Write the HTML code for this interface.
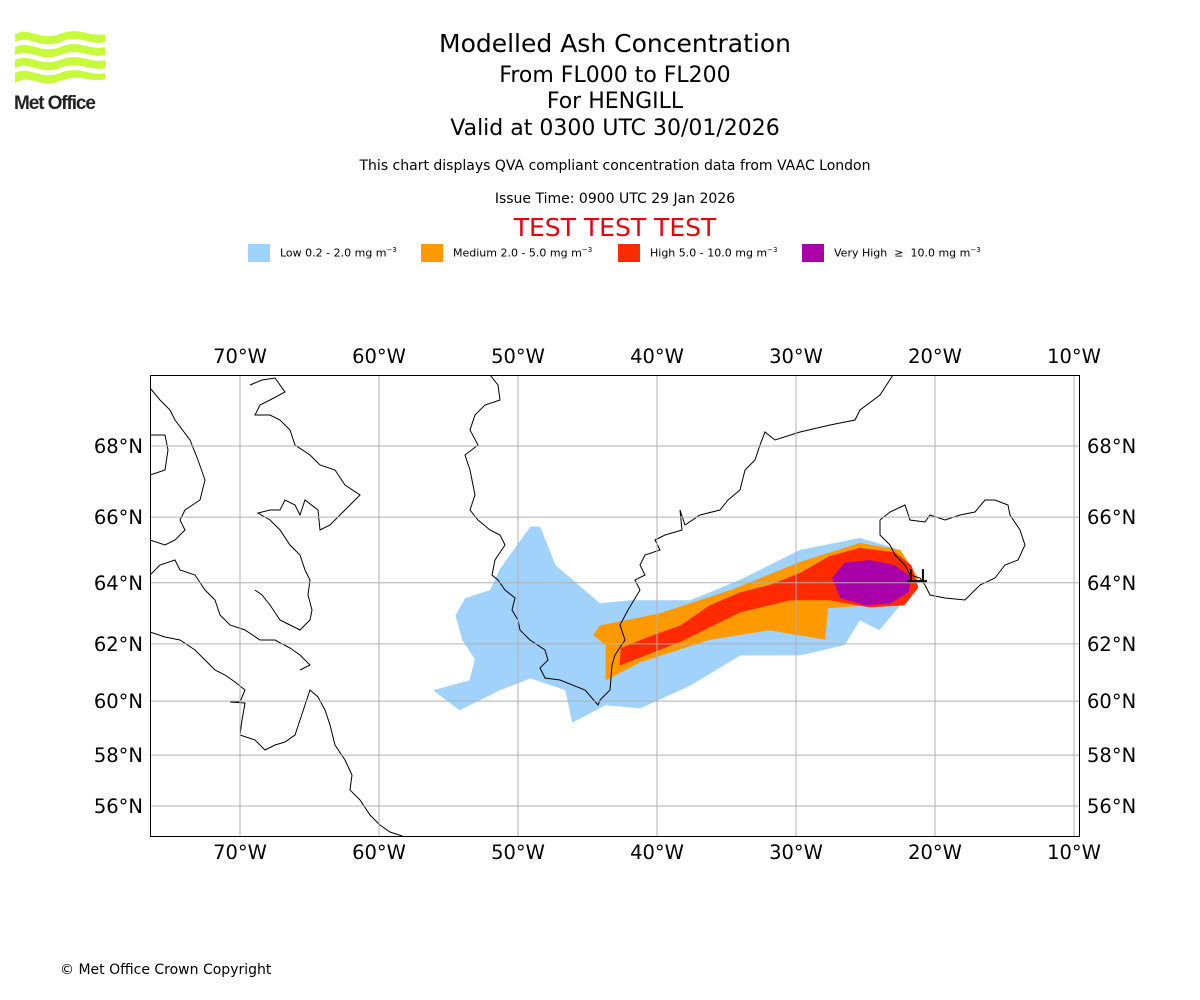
<!DOCTYPE html>
<html><head><meta charset="utf-8"><style>
html,body{margin:0;padding:0;background:#fff;}
body{width:1200px;height:1000px;position:relative;overflow:hidden;font-family:"DejaVu Sans","Liberation Sans",sans-serif;}
.t{position:absolute;left:0;width:1230px;text-align:center;color:#000;white-space:nowrap;line-height:1.15;}
</style></head><body>
<svg style="position:absolute;left:10px;top:28px" width="100" height="86" viewBox="0 0 100 86">
<g fill="#c8fa3c">
<path d="M5 6 C20 -2 30 14 50 6 C70 -2 80 10 95 6 L95 14 C80 18 70 6 50 14 C30 22 20 6 5 14Z"/>
<path d="M5 19 C20 11 30 27 50 19 C70 11 80 23 95 19 L95 27 C80 31 70 19 50 27 C30 35 20 19 5 27Z"/>
<path d="M5 32 C20 24 30 40 50 32 C70 24 80 36 95 32 L95 40 C80 44 70 32 50 40 C30 48 20 32 5 40Z"/>
<path d="M5 45 C20 37 30 53 50 45 C70 37 80 49 95 45 L95 51 C80 55 70 45 50 53 C30 61 20 45 5 55Z"/>
</g>
<text x="4" y="81" font-family="Liberation Sans, sans-serif" font-weight="bold" font-size="19" fill="#222" letter-spacing="-1.1">Met Office</text>
</svg>
<div class="t" style="top:30px;font-size:25px;">Modelled Ash Concentration</div>
<div class="t" style="top:63px;font-size:22px;">From FL000 to FL200</div>
<div class="t" style="top:89px;font-size:22px;">For HENGILL</div>
<div class="t" style="top:116px;font-size:22px;">Valid at 0300 UTC 30/01/2026</div>
<div class="t" style="top:158px;font-size:14px;">This chart displays QVA compliant concentration data from VAAC London</div>
<div class="t" style="top:191px;font-size:14px;">Issue Time: 0900 UTC 29 Jan 2026</div>
<div class="t" style="top:214px;font-size:25px;color:#e8000b;">TEST TEST TEST</div>
<div style="position:absolute;top:244px;left:248px;font-size:11px;height:20px;">
<span style="position:absolute;left:0;top:0;width:22px;height:18px;background:#a0d2fc"></span><span style="position:absolute;left:32px;top:2px;white-space:nowrap">Low 0.2 - 2.0 mg m<sup style="font-size:7px">−3</sup></span>
<span style="position:absolute;left:173px;top:0;width:22px;height:18px;background:#ff9900"></span><span style="position:absolute;left:205px;top:2px;white-space:nowrap">Medium 2.0 - 5.0 mg m<sup style="font-size:7px">−3</sup></span>
<span style="position:absolute;left:370px;top:0;width:22px;height:18px;background:#ff2a00"></span><span style="position:absolute;left:402px;top:2px;white-space:nowrap">High 5.0 - 10.0 mg m<sup style="font-size:7px">−3</sup></span>
<span style="position:absolute;left:554px;top:0;width:22px;height:18px;background:#aa00aa"></span><span style="position:absolute;left:586px;top:2px;white-space:nowrap">Very High &nbsp;≥ &nbsp;10.0 mg m<sup style="font-size:7px">−3</sup></span>
</div>
<svg id="map" width="1200" height="1000" style="position:absolute;left:0;top:0;font-family:'DejaVu Sans',sans-serif"></svg>
<div style="position:absolute;left:60px;top:962px;font-size:14px;">© Met Office Crown Copyright</div>
<script>
const lonTicks=[-70,-60,-50,-40,-30,-20,-10];
const lonLabels=["70°W","60°W","50°W","40°W","30°W","20°W","10°W"];
const latTicks=[68,66,64,62,60,58,56];
const latLabels=["68°N","66°N","64°N","62°N","60°N","58°N","56°N"];
const lowPlume=[[-56.1,60.39],[-54.2,59.67],[-51.3,60.39],[-49.1,60.81],[-46.6,60.39],[-46.1,59.22],[-43.7,59.85],[-41.2,59.74],[-37.6,60.56],[-34.0,61.61],[-29.7,61.61],[-26.5,61.96],[-25.4,62.79],[-24.0,62.46],[-22.2,63.44],[-21.4,64.25],[-22.9,65.08],[-25.4,65.38],[-29.7,65.02],[-34.0,64.10],[-37.6,63.44],[-41.9,63.44],[-44.1,63.34],[-47.3,64.55],[-48.4,65.72],[-49.1,65.72],[-51.3,64.43],[-52.0,63.77],[-53.8,63.51],[-54.5,62.95],[-54.0,62.13],[-53.1,61.47],[-53.5,60.74]];
const mediumPlume=[[-43.7,60.74],[-41.2,61.37],[-36.2,62.14],[-31.9,62.46],[-27.9,62.14],[-27.7,63.18],[-24.7,63.28],[-21.8,63.51],[-21.2,64.15],[-22.5,65.02],[-25.4,65.23],[-29.7,64.65],[-34.7,63.77],[-39.8,63.02],[-44.1,62.62],[-44.6,62.30],[-43.7,61.96]];
const highPlume=[[-42.7,61.26],[-38.3,62.07],[-34.0,63.05],[-30.4,63.44],[-27.6,63.44],[-24.7,63.21],[-22.2,63.28],[-21.2,63.84],[-21.7,64.55],[-22.9,64.95],[-25.4,65.08],[-27.6,64.83],[-29.7,64.31],[-31.9,63.93],[-34.0,63.70],[-36.2,63.28],[-38.3,62.62],[-40.5,62.26],[-42.6,61.86]];
const veryHighPlume=[[-27.4,64.15],[-26.5,64.62],[-24.7,64.71],[-22.9,64.55],[-21.7,64.18],[-21.9,63.70],[-23.2,63.34],[-25.0,63.28],[-26.8,63.51]];
const NS='http://www.w3.org/2000/svg';
const svg=document.getElementById('map');
const L=150,T=375,R=1080,B=837;
const merc=la=>Math.log(Math.tan(Math.PI/4+la*Math.PI/360));
const xs=lo=>240+(lo+70)*13.9;
const ys=la=>446+(merc(68)-merc(la))*795;
function mk(tag,attrs){const e=document.createElementNS(NS,tag);for(const k in attrs)e.setAttribute(k,attrs[k]);svg.appendChild(e);return e;}
const clip=mk('clipPath',{id:'cp'});
const cr=document.createElementNS(NS,'rect');cr.setAttribute('x',L);cr.setAttribute('y',T);cr.setAttribute('width',R-L);cr.setAttribute('height',B-T);clip.appendChild(cr);
const g=mk('g',{'clip-path':'url(#cp)'});
function poly(pts,fill,name){const e=document.createElementNS(NS,'polygon');e.setAttribute('points',pts.map(p=>xs(p[0]).toFixed(1)+','+ys(p[1]).toFixed(1)).join(' '));e.setAttribute('fill',fill);


g.appendChild(e);}
poly(lowPlume,'#a0d2fc','ash-low');
poly(mediumPlume,'#ff9900','ash-medium');
poly(highPlume,'#ff2a00','ash-high');
poly(veryHighPlume,'#aa00aa','ash-very-high');
const coasts=[
"M893,375 L880,395 860,410 855,420 830,425 800,432 775,440 765,432 760,445 755,460 745,470 740,490 728,500 720,510 700,515 685,525 680,510 682,530 665,535 655,540 660,550 645,555 640,565 645,575 635,580 640,590 628,610 620,625 625,640 615,655 612,665 610,690 600,700 598,705 585,690 560,680 545,678 540,668 548,660 545,650 530,640 520,630 518,620 512,610 515,598 505,590 498,580 492,575 495,560 505,545 500,535 490,530 478,520 470,510 475,495 470,470 465,455 478,445 470,430 475,415 485,405 500,400 498,385 490,375",
"M150,388 L160,400 170,410 175,420 190,440 198,460 205,480 200,500 185,510 180,520 185,530 175,540 165,545 150,540",
"M150,435 L165,435 168,450 165,470 150,475",
"M150,575 L160,565 175,560 180,570 195,575 205,590 215,600 220,615 230,625 245,630 260,640 275,640 290,648 300,655 310,665 300,670",
"M150,632 L165,637 180,640 195,650 205,660 215,670 225,675 235,682 245,690 240,702 230,702 245,703 242,720 240,735 255,740 265,750 275,745 285,742 295,735 300,720 305,705 310,690 318,697 325,710 330,725 335,745 345,760 352,775 350,790 360,800 370,815 380,825 390,832 405,837",
"M250,385 L262,380 275,378 285,392 270,400 260,405 255,415 270,415 280,420 290,430 295,445 310,455 320,465 335,470 345,485 360,495 350,505 340,515 330,525 320,530 318,510 305,500 300,515 295,505 285,500 280,510 270,510 258,513 270,520 280,530 290,545 300,555 305,570 310,580 308,595 312,610 310,620 300,630 290,625 280,620 270,605 262,595 255,590",
"M880,520 L890,512 905,505 910,520 925,522 930,515 945,520 960,515 975,512 985,500 995,500 1008,505 1010,515 1020,530 1025,545 1018,560 1005,565 995,578 980,585 965,600 945,598 930,595 925,585 920,578 910,575 905,565 895,555 890,545 880,535 880,520"
];
coasts.forEach((d,i)=>{const p=document.createElementNS(NS,'path');p.setAttribute('d',d);p.setAttribute('fill','none');p.setAttribute('stroke','#000');p.setAttribute('stroke-width','1');


g.appendChild(p);});
lonTicks.forEach((lo,i)=>{const x=xs(lo);
const ln=mk('line',{x1:x,x2:x,y1:T,y2:B,stroke:'#b0b0b0','stroke-width':1});


[T-12,B+22].forEach(y=>{const t=mk('text',{x:x,y:y,'text-anchor':'middle','font-size':19.5,fill:'#000'});t.textContent=lonLabels[i];

});});
latTicks.forEach((la,i)=>{const y=ys(la);
const ln=mk('line',{x1:L,x2:R,y1:y,y2:y,stroke:'#b0b0b0','stroke-width':1});


const t1=mk('text',{x:L-7,y:y+7,'text-anchor':'end','font-size':19.5,fill:'#000'});t1.textContent=latLabels[i];


const t2=mk('text',{x:R+7,y:y+7,'text-anchor':'start','font-size':19.5,fill:'#000'});t2.textContent=latLabels[i];

});
const fr=mk('rect',{x:L+0.5,y:T+0.5,width:R-L-1,height:B-T-1,fill:'none',stroke:'#000','stroke-width':1});


const v=mk('path',{d:`M${xs(-21.3)-10},${ys(64.05)} h20 M${xs(-21.3)-6},${ys(64.05)} v-12 M${xs(-21.3)+6},${ys(64.05)} v-12`,stroke:'#000','stroke-width':2,fill:'none'});


</script>
</body></html>
